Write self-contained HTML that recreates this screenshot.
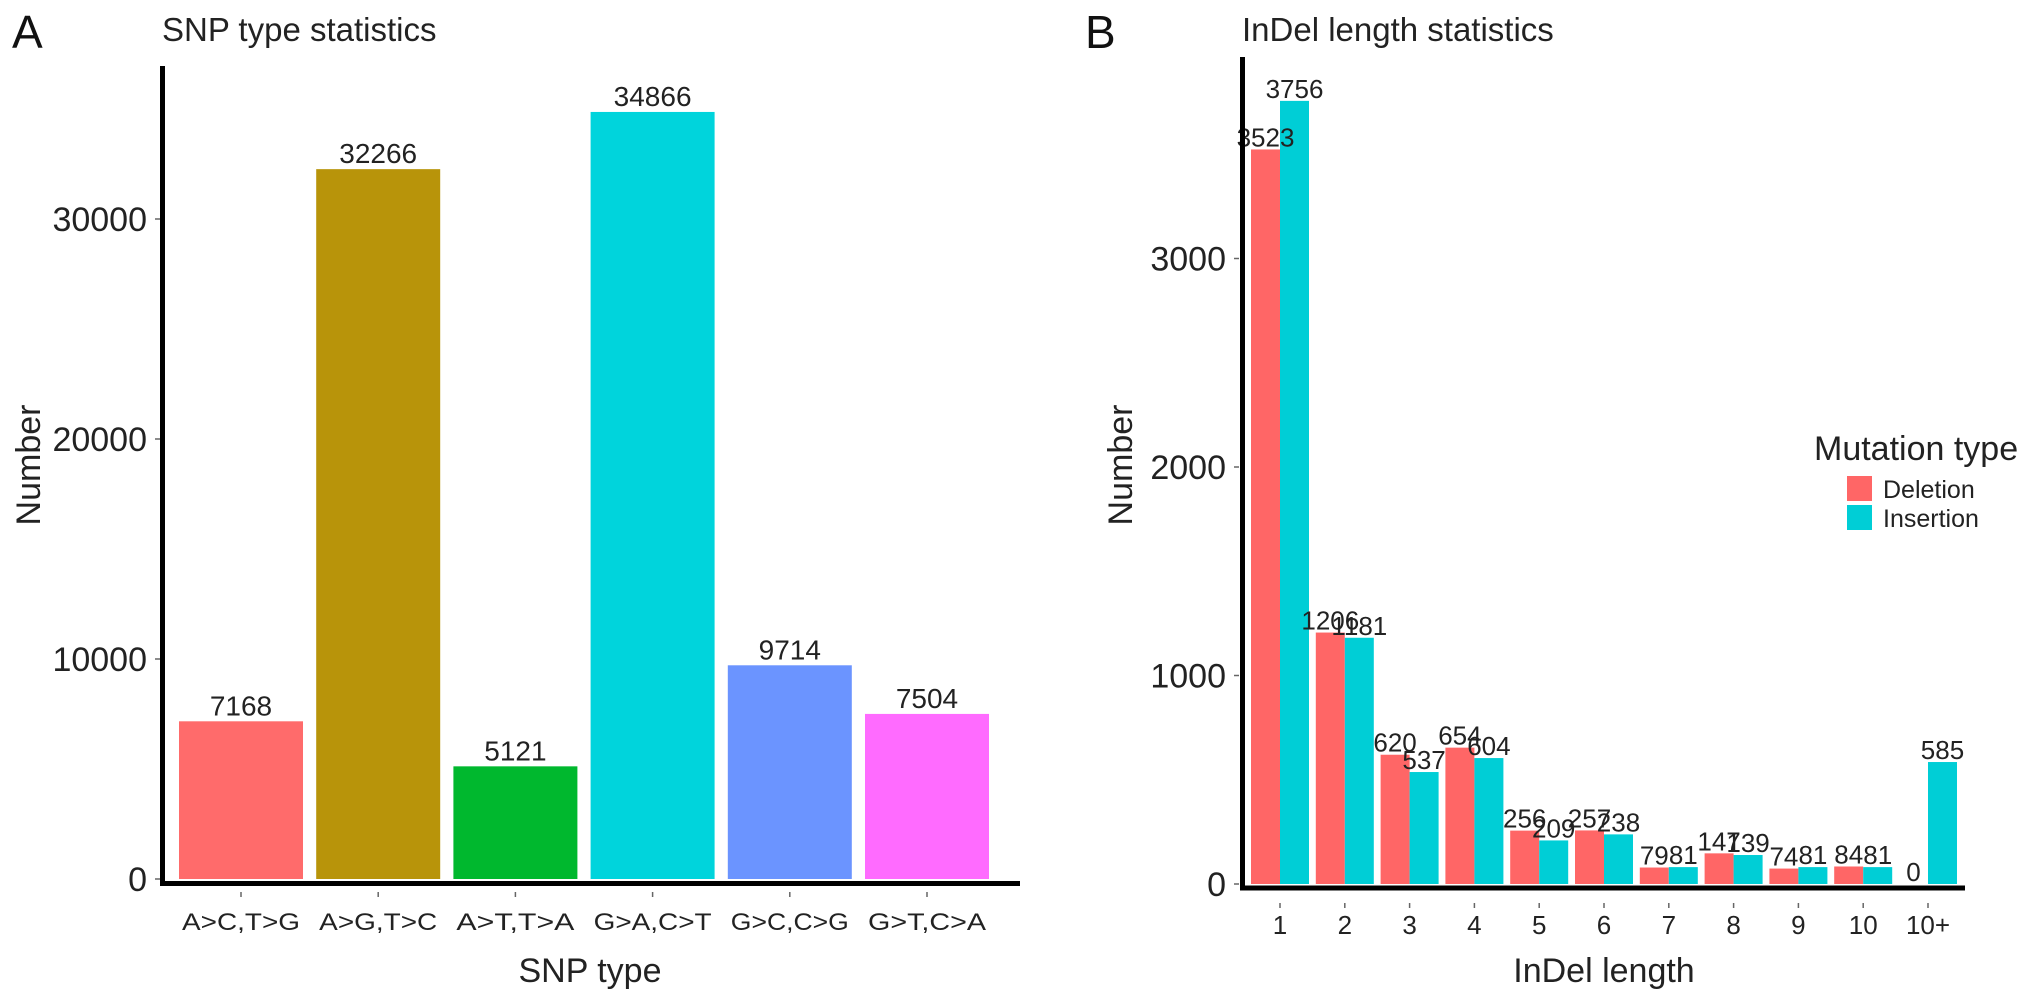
<!DOCTYPE html>
<html><head><meta charset="utf-8"><style>
body{margin:0;background:#fff;}
svg text{font-family:"Liberation Sans",sans-serif;}
</style></head><body>
<svg id="chart" width="2032" height="993" xmlns="http://www.w3.org/2000/svg">
<text x="12" y="48" font-size="46" fill="#111">A</text>
<text x="162" y="41" font-size="33" fill="#222">SNP type statistics</text>
<text x="1085" y="48" font-size="46" fill="#111">B</text>
<text x="1242" y="41" font-size="33" fill="#222">InDel length statistics</text>
<g id="left"></g><g id="right"></g>
<text transform="translate(40,465) rotate(-90)" text-anchor="middle" font-size="34" fill="#222">Number</text>
<text x="590" y="982" text-anchor="middle" font-size="34" fill="#222">SNP type</text>
<text transform="translate(1132,465) rotate(-90)" text-anchor="middle" font-size="34" fill="#222">Number</text>
<text x="1604" y="982" text-anchor="middle" font-size="34" fill="#222">InDel length</text>
<g>
<text x="1814" y="460" font-size="34" fill="#222">Mutation type</text>
<rect x="1847" y="476" width="25" height="25" fill="#FF6666"/>
<text x="1883" y="498" font-size="25" fill="#222">Deletion</text>
<rect x="1847" y="505" width="25" height="25" fill="#00CED6"/>
<text x="1883" y="527" font-size="25" fill="#222">Insertion</text>
</g>
</svg>
<script>
const snpCategories=["A>C,T>G","A>G,T>C","A>T,T>A","G>A,C>T","G>C,C>G","G>T,C>A"];
const snpValues=[7168,32266,5121,34866,9714,7504];
const snpColors=["#FF6B6B","#B8940A","#00B82E","#00D4DC","#6B94FF","#FF6BFF"];
const snpTicks=[0,10000,20000,30000];
const indelCategories=["1","2","3","4","5","6","7","8","9","10","10+"];
const deletionValues=[3523,1206,620,654,256,257,79,147,74,84,0];
const insertionValues=[3756,1181,537,604,209,238,81,139,81,81,585];
const indelTicks=[0,1000,2000,3000];

const NS="http://www.w3.org/2000/svg";
function mk(parent,tag,attrs,txt){const e=document.createElementNS(NS,tag);for(const k in attrs)e.setAttribute(k,attrs[k]);if(txt!==undefined)e.textContent=txt;parent.appendChild(e);return e;}

// Left chart
const L=document.getElementById('left');
const ly=v=>879-v*0.022;
const lx=i=>241+i*137.2;
snpTicks.forEach(t=>{
  const tl=mk(L,'text',{x:147,y:ly(t)+12,'text-anchor':'end','font-size':34,fill:'#222'},t);
  
  
  mk(L,'line',{x1:155,x2:160,y1:ly(t),y2:ly(t),stroke:'#666','stroke-width':1.5});
});
snpValues.forEach((v,i)=>{
  const r=mk(L,'rect',{x:lx(i)-62,y:ly(v),width:124,height:ly(0)-ly(v),fill:snpColors[i]});
  
  
  const t=mk(L,'text',{x:lx(i),y:ly(v)-6,'text-anchor':'middle','font-size':28,fill:'#222'},v);
  
  
  mk(L,'line',{x1:lx(i),x2:lx(i),y1:892,y2:897,stroke:'#666','stroke-width':1.5});
  const c=mk(L,'text',{x:lx(i),y:930,'text-anchor':'middle','font-size':24,fill:'#222',textLength:118,lengthAdjust:'spacingAndGlyphs'},snpCategories[i]);
  
  
});
const la=mk(L,'path',{d:'M162.5 66 V883.5 H1020',fill:'none',stroke:'#000','stroke-width':5});



// Right chart
const R=document.getElementById('right');
const ry=v=>884-v*0.2085;
const rx=i=>1280+i*64.8;
indelTicks.forEach(t=>{
  const tl=mk(R,'text',{x:1226,y:ry(t)+12,'text-anchor':'end','font-size':34,fill:'#222'},t);
  
  
  mk(R,'line',{x1:1234,x2:1239,y1:ry(t),y2:ry(t),stroke:'#666','stroke-width':1.5});
});
indelCategories.forEach((c,i)=>{
  const d=deletionValues[i],s=insertionValues[i];
  const rd=mk(R,'rect',{x:rx(i)-29,y:ry(d),width:29,height:ry(0)-ry(d),fill:'#FF6666'});
  
  
  const rs=mk(R,'rect',{x:rx(i),y:ry(s),width:29,height:ry(0)-ry(s),fill:'#00CED6'});
  
  
  const td=mk(R,'text',{x:rx(i)-14.5,y:ry(d)-3,'text-anchor':'middle','font-size':26,fill:'#222'},d);
  
  
  const ts=mk(R,'text',{x:rx(i)+14.5,y:ry(s)-3,'text-anchor':'middle','font-size':26,fill:'#222'},s);
  
  
  mk(R,'line',{x1:rx(i),x2:rx(i),y1:903,y2:908,stroke:'#666','stroke-width':1.5});
  const cl=mk(R,'text',{x:rx(i),y:934,'text-anchor':'middle','font-size':26,fill:'#222'},c);
  
  
});
const ra=mk(R,'path',{d:'M1242.5 57 V888 H1965',fill:'none',stroke:'#000','stroke-width':5});


</script>
</body></html>
